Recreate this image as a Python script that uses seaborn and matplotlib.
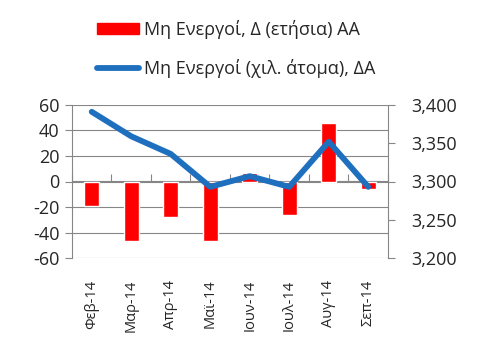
import numpy as np
import matplotlib
matplotlib.use("Agg")
import matplotlib.pyplot as plt
import seaborn as sns
from matplotlib.patches import Patch
from matplotlib.lines import Line2D
from matplotlib.ticker import FuncFormatter

# data
months = ["Φεβ-14", "Μαρ-14", "Απρ-14", "Μαϊ-14", "Ιουν-14", "Ιουλ-14", "Αυγ-14", "Σεπ-14"]
yoy_change = [-19, -47, -28, -47, 7, -26, 46, -6]
inactive_k = [3391, 3359, 3336, 3293, 3307, 3293, 3352, 3293]
left_ticks = [-60, -40, -20, 0, 20, 40, 60]
right_ticks = [3200, 3250, 3300, 3350, 3400]

bar_label = "Μη Ενεργοί, Δ (ετήσια) ΑΑ"
line_label = "Μη Ενεργοί (χιλ. άτομα), ΔΑ"

sns.set_style("white")
plt.rcParams["font.family"] = ["Open Sans", "DejaVu Sans"]
plt.rcParams["axes.unicode_minus"] = False

red = "#FF0000"
blue = "#1F6FBF"
grid_c = "#868686"

fig = plt.figure(figsize=(4.93, 3.63), dpi=100)
ax = fig.add_axes([0.146, 0.289, 0.641, 0.422])

sns.barplot(x=months, y=yoy_change, color=red, width=0.38, saturation=1, ax=ax)
ax.set_ylim(-60, 60)
ax.set_yticks(left_ticks)
ax.set_xlim(-0.5, len(months) - 0.5)
ax.yaxis.grid(True, color=grid_c, linewidth=0.8)
ax.set_axisbelow(True)
for s in ["top", "bottom", "right"]:
    ax.spines[s].set_visible(False)
ax.spines["left"].set_color(grid_c)
ax.spines["left"].set_linewidth(0.8)
ax.tick_params(axis="y", left=True, length=5, width=0.8, color=grid_c, labelsize=13, pad=4)
ax.tick_params(axis="x", bottom=False, labelsize=10.5, pad=12)
plt.setp(ax.get_xticklabels(), rotation=90)

# x axis through zero with ticks between categories
sec = ax.secondary_xaxis(0.5)
sec.set_xticks(np.arange(len(months) + 1) - 0.5)
sec.set_xticklabels([])
sec.tick_params(direction="out", length=5, width=0.8, color=grid_c)
for sp in sec.spines.values():
    sp.set_color(grid_c)
    sp.set_linewidth(0.8)

ax2 = ax.twinx()
sns.lineplot(x=np.arange(len(months)), y=inactive_k, color=blue, linewidth=4.2, ax=ax2)
ax2.set_ylim(3200, 3400)
ax2.set_yticks(right_ticks)
ax2.yaxis.set_major_formatter(FuncFormatter(lambda v, p: f"{int(v):,}"))
for s in ["top", "bottom", "left"]:
    ax2.spines[s].set_visible(False)
ax2.spines["right"].set_color(grid_c)
ax2.spines["right"].set_linewidth(0.8)
ax2.tick_params(axis="y", right=True, length=5, width=0.8, color=grid_c, labelsize=13, pad=12)
ax2.set_xlim(-0.5, len(months) - 0.5)

handles = [Patch(color=red), Line2D([], [], color=blue, linewidth=4.2)]
fig.legend(handles, [bar_label, line_label], loc="upper center",
           bbox_to_anchor=(0.48, 0.99), frameon=False, fontsize=13,
           handlelength=2.3, handleheight=0.6, handletextpad=0.3, labelspacing=1.1)

fig.savefig("out.png", dpi=100)
